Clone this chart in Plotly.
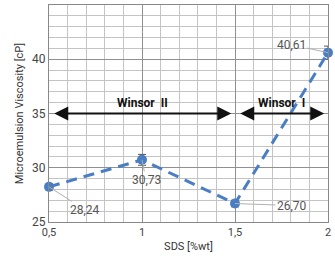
import plotly.graph_objects as go

sds = [0.5, 1.0, 1.5, 2.0]
viscosity = [28.24, 30.73, 26.70, 40.61]
errors = [0.3, 0.5, 0.3, 0.6]
labels = ["28,24", "30,73", "26,70", "40,61"]
label_offsets = [(36, 23), (4, 20), (57, 2), (-37, -8)]
x_ticks = [0.5, 1.0, 1.5, 2.0]
x_ticktext = ["0,5", "1", "1,5", "2"]
y_ticks = [25, 30, 35, 40, 45]

regions = [("Winsor  II", 0.5, 1.5), ("Winsor  I", 1.5, 2.0)]
arrow_y = 35

blue = "#4a7ec4"
font_family = "Roboto, DejaVu Sans, sans-serif"

fig = go.Figure()
fig.add_trace(go.Scatter(
    x=sds, y=viscosity, mode="lines+markers",
    line=dict(color=blue, width=3, dash="11px,7px"),
    marker=dict(color=blue, size=10),
    error_y=dict(type="data", array=errors, color="#555555", thickness=1, width=4),
    showlegend=False, cliponaxis=False,
))

for (xv, yv, lab, (ax, ay)) in zip(sds, viscosity, labels, label_offsets):
    fig.add_annotation(x=xv, y=yv, text=lab, showarrow=True, ax=ax, ay=ay,
                       arrowhead=0, arrowwidth=1, arrowcolor="#b0b0b0",
                       font=dict(family=font_family, size=12, color="#555555"))

for name, x0, x1 in regions:
    pad = 0.02
    fig.add_annotation(x=x1 - pad, y=arrow_y, ax=x0 + pad, ay=arrow_y,
                       xref="x", yref="y", axref="x", ayref="y",
                       text="", showarrow=True, arrowhead=2, arrowsize=1.4,
                       arrowwidth=2, arrowcolor="#111111", arrowside="end+start")
    fig.add_annotation(x=(x0 + x1) / 2, y=arrow_y, text="<b>" + name + "</b>",
                       showarrow=False, yshift=11,
                       font=dict(family=font_family, size=12, color="#111111"))

fig.update_layout(
    width=335, height=256,
    margin=dict(l=49, r=7, t=5, b=34),
    plot_bgcolor="white", paper_bgcolor="white",
    font=dict(family=font_family, size=11, color="#444444"),
)
fig.update_xaxes(
    range=[0.5, 2.0], tickvals=x_ticks, ticktext=x_ticktext, automargin=False,
    showgrid=True, gridcolor="#909090", gridwidth=1,
    minor=dict(dtick=0.1, tick0=0.5, showgrid=True, gridcolor="#c4c4c4", gridwidth=1),
    showline=True, linecolor="#888888", mirror=True, zeroline=False,
    ticks="", tickfont=dict(size=11, color="#444444"),
    title=dict(text="SDS [%wt]", font=dict(size=11, color="#333333"), standoff=4),
)
fig.update_yaxes(
    range=[25, 45], tickvals=y_ticks, automargin=False,
    showgrid=True, gridcolor="#909090", gridwidth=1,
    minor=dict(dtick=1, tick0=25, showgrid=True, gridcolor="#c4c4c4", gridwidth=1),
    showline=True, linecolor="#888888", mirror=True, zeroline=False,
    ticks="", tickfont=dict(size=12, color="#444444"),
    title=dict(text="Microemulsion Viscosity [cP]", font=dict(size=11, color="#333333"), standoff=6),
)

fig.write_html("out.html", config={"displayModeBar": False},
               post_script="document.body.style.margin='0';document.body.style.overflow='hidden';")
